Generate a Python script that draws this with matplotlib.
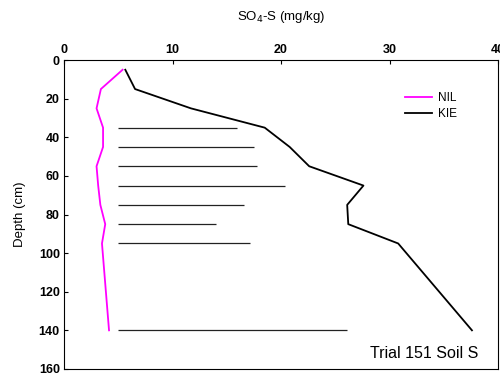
import numpy as np
import matplotlib
matplotlib.use('Agg')
import matplotlib.pyplot as plt

plt.rcParams['font.family'] = ['Liberation Sans', 'DejaVu Sans']

# depth profiles (cm) and SO4-S (mg/kg)
depth = [5, 15, 25, 35, 45, 55, 65, 75, 85, 95, 140]
nil = [5.4, 3.4, 3.0, 3.6, 3.6, 3.0, 3.15, 3.35, 3.8, 3.5, 4.15]
kie = [5.65, 6.55, 11.7, 18.5, 20.8, 22.6, 27.6, 26.1, 26.2, 30.8, 37.6]

# horizontal bars at each depth
bar_depth = [35, 45, 55, 65, 75, 85, 95, 140]
bar_start = 5.0
bar_end = [15.9, 17.5, 17.8, 20.4, 16.6, 14.0, 17.1, 26.1]

fig = plt.figure(figsize=(5, 3.78), dpi=100)
ax = fig.add_axes([0.128, 0.024, 0.868, 0.817])

ax.plot(nil, depth, color='#ff00ff', linewidth=1.3, label='NIL')
ax.plot(kie, depth, color='black', linewidth=1.3, label='KIE')
ax.hlines(bar_depth, bar_start, bar_end, color='#222222', linewidth=0.9)

ax.set_xlim(0, 40)
ax.set_ylim(160, 0)
ax.set_xticks(np.arange(0, 41, 10))
ax.set_yticks(np.arange(0, 161, 20))
ax.xaxis.tick_top()
ax.xaxis.set_label_position('top')
ax.tick_params(direction='in', length=3, width=0.8, labelsize=9, pad=3)
for lab in ax.get_xticklabels() + ax.get_yticklabels():
    lab.set_fontweight('bold')
ax.set_xlabel(r'SO$_4$-S (mg/kg)', fontsize=9.5, labelpad=17)
ax.set_ylabel('Depth (cm)', fontsize=9.5, labelpad=9)

ax.legend(loc='upper right', bbox_to_anchor=(0.93, 0.93), frameon=False,
          fontsize=8.5, handlelength=2.3, handletextpad=0.5, labelspacing=0.3)
ax.text(0.955, 0.025, 'Trial 151 Soil S', transform=ax.transAxes,
        ha='right', va='bottom', fontsize=11.5)

plt.savefig('out.png', dpi=100)
